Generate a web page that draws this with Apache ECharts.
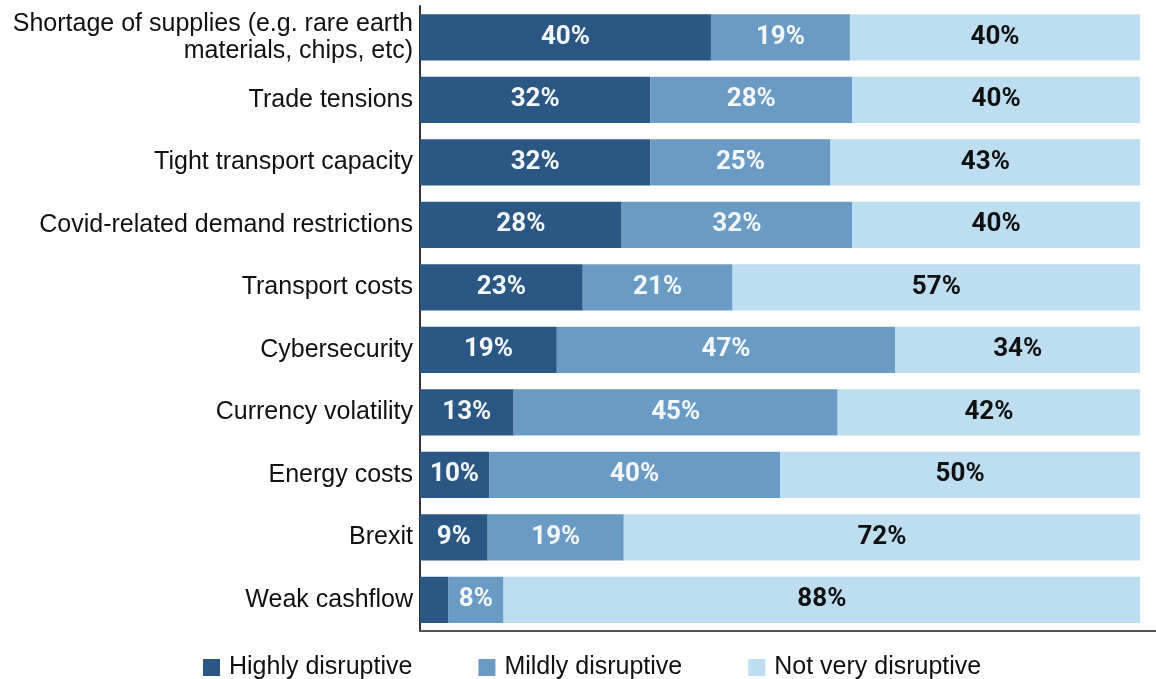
<!DOCTYPE html>
<html>
<head>
<meta charset="utf-8">
<script src="https://cdn.jsdelivr.net/npm/echarts@6/dist/echarts.min.js"></script>
<style>
html,body{margin:0;padding:0;background:#fff;}
#chart{width:1156px;height:679px;}
</style>
</head>
<body>
<div id="chart"></div>
<script>
const categories = [
  "Shortage of supplies (e.g. rare earth\nmaterials, chips, etc)",
  "Trade tensions",
  "Tight transport capacity",
  "Covid-related demand restrictions",
  "Transport costs",
  "Cybersecurity",
  "Currency volatility",
  "Energy costs",
  "Brexit",
  "Weak cashflow"
];
const highly = [40.4, 32, 32, 28, 22.6, 19, 13, 9.6, 9.4, 3.9];
const mildly = [19.3, 28, 25, 32, 20.8, 47, 45, 40.4, 18.9, 7.7];
const notVery = [40.3, 40, 43, 40, 56.6, 34, 42, 50, 71.7, 88.4];
const seriesNames = ["Highly disruptive", "Mildly disruptive", "Not very disruptive"];
const colors = ["#2b5784", "#6a9bc4", "#bcdef0"];
const labelColors = ["#f4f7fa", "#f4f7fa", "#111111"];

const chart = echarts.init(document.getElementById('chart'));
const fmt = p => p.value < 5 ? '' : Math.round(p.value) + '%';
const mk = (name, data, i) => ({
  name, type: 'bar', stack: 'total', data,
  barWidth: '74%',
  itemStyle: { color: colors[i] },
  label: {
    show: true, position: 'inside', formatter: fmt,
    color: labelColors[i], fontSize: 26, fontWeight: 'bold',
    fontFamily: 'Roboto, Liberation Sans, Arial, sans-serif'
  },
  emphasis: { disabled: true }
});
chart.setOption({
  animation: false,
  textStyle: { fontFamily: 'Liberation Sans, Arial, sans-serif' },
  grid: { left: 420, right: 0, top: 6, bottom: 48, containLabel: false },
  legend: {
    top: 650, left: 198,
    itemWidth: 17, itemHeight: 17, itemGap: 66,
    icon: 'rect',
    textStyle: { fontSize: 25, color: '#111', padding: [0, 0, 0, 4], fontFamily: 'Liberation Sans, Arial, sans-serif' },
    data: seriesNames
  },
  xAxis: {
    type: 'value', min: 0, max: 102.2,
    axisLine: { show: true, lineStyle: { color: '#555', width: 2 } },
    axisTick: { show: false }, axisLabel: { show: false }, splitLine: { show: false }
  },
  yAxis: {
    type: 'category', data: categories, inverse: true,
    axisLine: { show: true, lineStyle: { color: '#333', width: 2 } },
    axisTick: { show: false },
    axisLabel: { fontSize: 25, color: '#111', margin: 7, lineHeight: 27, align: 'right' }
  },
  series: [mk(seriesNames[0], highly, 0), mk(seriesNames[1], mildly, 1), mk(seriesNames[2], notVery, 2)]
});
</script>
</body>
</html>
